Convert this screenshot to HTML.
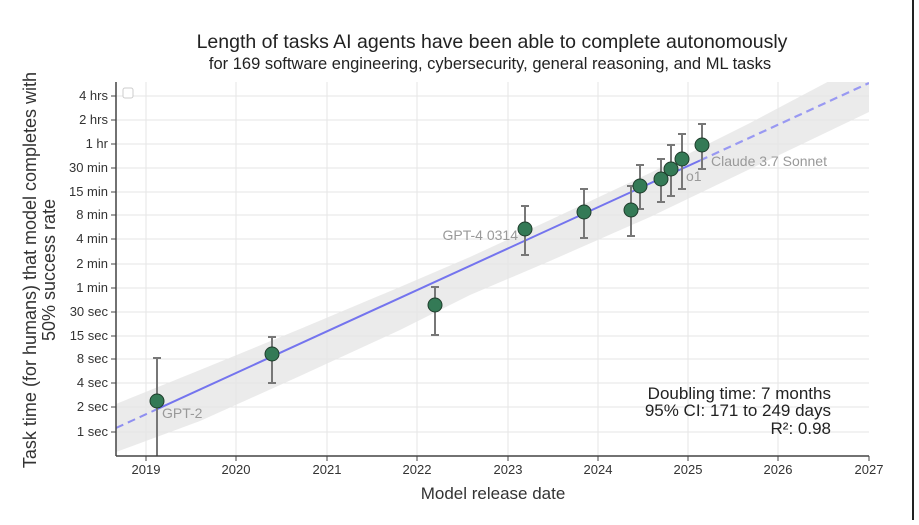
<!DOCTYPE html>
<html><head><meta charset="utf-8"><style>
body{margin:0;background:#fff;}
svg text{font-family:"Liberation Sans",sans-serif;}
</style></head><body>
<svg width="919" height="520" viewBox="0 0 919 520" xmlns="http://www.w3.org/2000/svg">
<rect width="919" height="520" fill="#fff"/>
<line x1="913" y1="0" x2="913" y2="520" stroke="#222" stroke-width="2"/>
<text x="492" y="48" font-size="19.5" text-anchor="middle" fill="#222">Length of tasks AI agents have been able to complete autonomously</text>
<text x="490" y="69" font-size="16.5" text-anchor="middle" fill="#222">for 169 software engineering, cybersecurity, general reasoning, and ML tasks</text>
<defs><clipPath id="c"><rect x="116" y="82" width="753" height="374"/></clipPath></defs>
<g stroke="#e6e6e6" stroke-width="1">
<line x1="146" y1="82" x2="146" y2="456"/><line x1="236" y1="82" x2="236" y2="456"/><line x1="327" y1="82" x2="327" y2="456"/><line x1="417" y1="82" x2="417" y2="456"/><line x1="508" y1="82" x2="508" y2="456"/><line x1="598" y1="82" x2="598" y2="456"/><line x1="688" y1="82" x2="688" y2="456"/><line x1="778" y1="82" x2="778" y2="456"/>
<line x1="116" y1="96" x2="869" y2="96"/><line x1="116" y1="120" x2="869" y2="120"/><line x1="116" y1="144" x2="869" y2="144"/><line x1="116" y1="168" x2="869" y2="168"/><line x1="116" y1="192" x2="869" y2="192"/><line x1="116" y1="215" x2="869" y2="215"/><line x1="116" y1="239" x2="869" y2="239"/><line x1="116" y1="264" x2="869" y2="264"/><line x1="116" y1="288" x2="869" y2="288"/><line x1="116" y1="312" x2="869" y2="312"/><line x1="116" y1="336" x2="869" y2="336"/><line x1="116" y1="359" x2="869" y2="359"/><line x1="116" y1="383" x2="869" y2="383"/><line x1="116" y1="407" x2="869" y2="407"/><line x1="116" y1="432" x2="869" y2="432"/>
</g>
<g clip-path="url(#c)">
<polygon fill="#e6e6e6" fill-opacity="0.8" points="116,404 200,370 300,329 400,287 470,257 550,220 650,173 750,123 869,60 869,112 750,169 650,217 550,261 470,295 400,330 300,376 200,421 116,452"/>
<line x1="116" y1="428" x2="157" y2="409.2" stroke="#8f8ff0" stroke-width="2" stroke-dasharray="8,5"/>
<line x1="157" y1="409.2" x2="700" y2="160.5" stroke="#7474ee" stroke-width="2"/>
<line x1="700" y1="160.5" x2="869" y2="83" stroke="#9999f2" stroke-width="2.2" stroke-dasharray="8,5"/>
</g>
<rect x="123" y="88" width="10" height="10" rx="2" fill="#fff" stroke="#ccc"/>
<g stroke="#777" stroke-width="2">
<line x1="157" y1="358" x2="157" y2="456"/><line x1="153" y1="358" x2="161" y2="358"/>
<line x1="272" y1="337" x2="272" y2="383"/><line x1="268" y1="337" x2="276" y2="337"/><line x1="268" y1="383" x2="276" y2="383"/>
<line x1="435" y1="287" x2="435" y2="335"/><line x1="431" y1="287" x2="439" y2="287"/><line x1="431" y1="335" x2="439" y2="335"/>
<line x1="525" y1="206" x2="525" y2="255"/><line x1="521" y1="206" x2="529" y2="206"/><line x1="521" y1="255" x2="529" y2="255"/>
<line x1="584" y1="189" x2="584" y2="238"/><line x1="580" y1="189" x2="588" y2="189"/><line x1="580" y1="238" x2="588" y2="238"/>
<line x1="631" y1="186" x2="631" y2="236"/><line x1="627" y1="186" x2="635" y2="186"/><line x1="627" y1="236" x2="635" y2="236"/>
<line x1="640" y1="165" x2="640" y2="209"/><line x1="636" y1="165" x2="644" y2="165"/><line x1="636" y1="209" x2="644" y2="209"/>
<line x1="661" y1="159" x2="661" y2="202"/><line x1="657" y1="159" x2="665" y2="159"/><line x1="657" y1="202" x2="665" y2="202"/>
<line x1="671" y1="145" x2="671" y2="196"/><line x1="667" y1="145" x2="675" y2="145"/><line x1="667" y1="196" x2="675" y2="196"/>
<line x1="682" y1="134" x2="682" y2="189"/><line x1="678" y1="134" x2="686" y2="134"/><line x1="678" y1="189" x2="686" y2="189"/>
<line x1="702" y1="124" x2="702" y2="169"/><line x1="698" y1="124" x2="706" y2="124"/><line x1="698" y1="169" x2="706" y2="169"/>
</g>
<g fill="#347a56" stroke="#1f3d2c" stroke-width="1">
<circle cx="157" cy="401" r="7"/><circle cx="272" cy="354" r="7"/><circle cx="435" cy="305" r="7"/><circle cx="525" cy="229" r="7"/><circle cx="584" cy="212" r="7"/><circle cx="631" cy="210" r="7"/><circle cx="640" cy="186" r="7"/><circle cx="661" cy="179" r="7"/><circle cx="671" cy="169" r="7"/><circle cx="682" cy="159" r="7"/><circle cx="702" cy="145" r="7"/>
</g>
<g fill="#999" font-size="14">
<text x="162" y="418">GPT-2</text>
<text x="518" y="240" text-anchor="end">GPT-4 0314</text>
<text x="686" y="181">o1</text>
<text x="711" y="166">Claude 3.7 Sonnet</text>
</g>
<g stroke="#444" stroke-width="1.5"><line x1="116" y1="82" x2="116" y2="456"/><line x1="116" y1="456" x2="869" y2="456"/></g>
<g stroke="#444" stroke-width="1">
<line x1="146" y1="456" x2="146" y2="461"/><line x1="236" y1="456" x2="236" y2="461"/><line x1="327" y1="456" x2="327" y2="461"/><line x1="417" y1="456" x2="417" y2="461"/><line x1="508" y1="456" x2="508" y2="461"/><line x1="598" y1="456" x2="598" y2="461"/><line x1="688" y1="456" x2="688" y2="461"/><line x1="778" y1="456" x2="778" y2="461"/><line x1="869" y1="456" x2="869" y2="461"/>
<line x1="111" y1="96" x2="116" y2="96"/><line x1="111" y1="120" x2="116" y2="120"/><line x1="111" y1="144" x2="116" y2="144"/><line x1="111" y1="168" x2="116" y2="168"/><line x1="111" y1="192" x2="116" y2="192"/><line x1="111" y1="215" x2="116" y2="215"/><line x1="111" y1="239" x2="116" y2="239"/><line x1="111" y1="264" x2="116" y2="264"/><line x1="111" y1="288" x2="116" y2="288"/><line x1="111" y1="312" x2="116" y2="312"/><line x1="111" y1="336" x2="116" y2="336"/><line x1="111" y1="359" x2="116" y2="359"/><line x1="111" y1="383" x2="116" y2="383"/><line x1="111" y1="407" x2="116" y2="407"/><line x1="111" y1="432" x2="116" y2="432"/>
</g>
<g font-size="13" fill="#333" text-anchor="middle">
<text x="146" y="474">2019</text><text x="236" y="474">2020</text><text x="327" y="474">2021</text><text x="417" y="474">2022</text><text x="508" y="474">2023</text><text x="598" y="474">2024</text><text x="688" y="474">2025</text><text x="778" y="474">2026</text><text x="869" y="474">2027</text>
</g>
<g font-size="13" fill="#333" text-anchor="end">
<text x="108" y="100">4 hrs</text><text x="108" y="124">2 hrs</text><text x="108" y="148">1 hr</text><text x="108" y="172">30 min</text><text x="108" y="196">15 min</text><text x="108" y="219">8 min</text><text x="108" y="243">4 min</text><text x="108" y="268">2 min</text><text x="108" y="292">1 min</text><text x="108" y="316">30 sec</text><text x="108" y="340">15 sec</text><text x="108" y="363">8 sec</text><text x="108" y="387">4 sec</text><text x="108" y="411">2 sec</text><text x="108" y="436">1 sec</text>
</g>
<text x="493" y="499" font-size="17" fill="#333" text-anchor="middle">Model release date</text>
<text transform="translate(36,270) rotate(-90)" font-size="18" fill="#333" text-anchor="middle">Task time (for humans) that model completes with</text>
<text transform="translate(55,270) rotate(-90)" font-size="18" fill="#333" text-anchor="middle">50% success rate</text>
<g font-size="17" fill="#222" text-anchor="end">
<text x="831" y="399">Doubling time: 7 months</text>
<text x="831" y="416">95% CI: 171 to 249 days</text>
<text x="831" y="434">R²: 0.98</text>
</g>
</svg>
</body></html>
